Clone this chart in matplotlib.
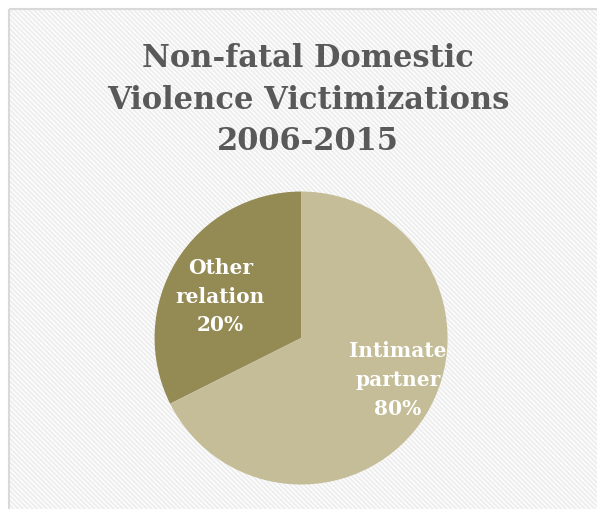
import matplotlib
matplotlib.use("Agg")
import matplotlib.pyplot as plt
from matplotlib.patches import Rectangle

# data
categories = ["Other relation", "Intimate partner"]
shares = [32.4, 67.6]          # slice sizes as drawn in the picture
label_pct = ["20%", "80%"]     # percentages printed on the slices
slice_colors = ["#948A54", "#C4BD97"]
title = "Non-fatal Domestic\nViolence Victimizations\n2006-2015"

plt.rcParams["hatch.linewidth"] = 1.5
plt.rcParams["hatch.color"] = "#EEEEEE"

fig = plt.figure(figsize=(5.97, 5.10), dpi=100)
fig.patch.set_facecolor("white")

# background axes for the hatched chart area
bg = fig.add_axes([0, 0, 1, 1], zorder=-1)
bg.set_xlim(0, 597)
bg.set_ylim(510, 0)
bg.axis("off")
bg.add_patch(Rectangle((9, 10), 620, 540, facecolor="white", edgecolor="#EEEEEE",
                       hatch="\\" * 7, lw=0))
bg.add_patch(Rectangle((9, 10), 620, 540, facecolor="none", edgecolor="#D9D9D9", lw=1.5))

fig.text(0.516, 0.916, title, ha="center", va="top", fontsize=22,
         fontweight="bold", family="DejaVu Serif", color="#595959",
         linespacing=1.45)

ax = fig.add_axes([0.2588, 0.048, 0.491, 0.5745])
wedges, _ = ax.pie(shares, colors=slice_colors, startangle=90, counterclock=True,
                   radius=1.0)
ax.set_xlim(-1, 1)
ax.set_ylim(-1, 1)
ax.set_aspect("equal")
ax.axis("off")

label_pos = [(-0.55, 0.29), (0.66, -0.28)]
for name, pct, (x, y) in zip(categories, label_pct, label_pos):
    words = name.split(" ")
    ax.text(x, y, "\n".join(words + [pct]), ha="center", va="center",
            fontsize=14.5, fontweight="bold", family="DejaVu Serif",
            color="white", linespacing=1.55)

fig.savefig("out.png", dpi=100)
